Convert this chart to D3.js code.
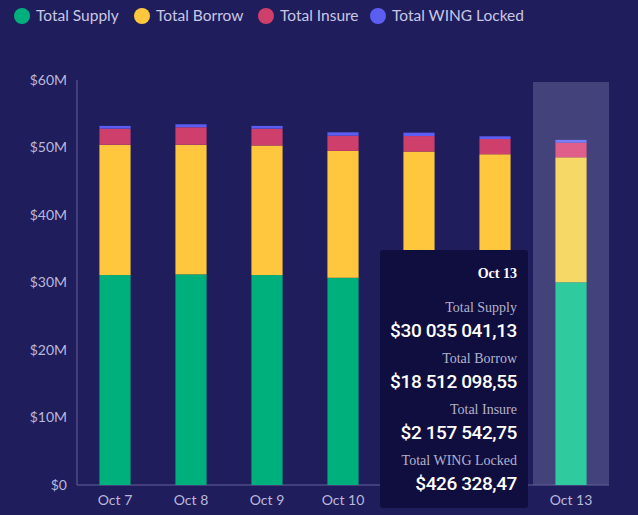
<!DOCTYPE html>
<html>
<head>
<meta charset="utf-8">
<script src="https://cdn.jsdelivr.net/npm/d3@7"></script>
<style>
  html, body { margin: 0; padding: 0; background: #201d5c; }
  #chart { width: 638px; height: 515px; }
</style>
</head>
<body>
<div id="chart"></div>
<script>
// chart data (millions of $)
const days = ['Oct 7', 'Oct 8', 'Oct 9', 'Oct 10', 'Oct 11', 'Oct 12', 'Oct 13'];
const supply = [31.1, 31.2, 31.1, 30.7, 30.6, 30.4, 30.035];
const borrow = [19.3, 19.2, 19.2, 18.8, 18.8, 18.6, 18.512];
const insure = [2.4, 2.6, 2.5, 2.25, 2.3, 2.26, 2.158];
const wing = [0.4, 0.44, 0.4, 0.5, 0.5, 0.4, 0.426];
const seriesNames = ['Total Supply', 'Total Borrow', 'Total Insure', 'Total WING Locked'];
const yTicks = [0, 10, 20, 30, 40, 50, 60];
const tipLines = ['$30 035 041,13', '$18 512 098,55', '$2 157 542,75', '$426 328,47'];

const colors = ['#00b07c', '#ffc73d', '#cf3f6b', '#5c5ef2'];
const hiColors = ['#2fcb9f', '#f6d866', '#df5f8a', '#7c7ef5'];
const active = 6;

const W = 638, H = 515;
const margin = { top: 80, right: 29, bottom: 30, left: 77 };

const svg = d3.select('#chart').append('svg')
  .attr('width', W).attr('height', H);

const rows = days.map((d, i) => ({ day: d, vals: [supply[i], borrow[i], insure[i], wing[i]] }));
const keys = [0, 1, 2, 3];
const stacked = d3.stack().keys(keys).value((d, k) => d.vals[k])(rows);

const x = d3.scaleBand().domain(days).range([margin.left, W - margin.right]).paddingInner(0.59).paddingOuter(0.295);
const y = d3.scaleLinear().domain([0, 60]).range([H - margin.bottom, margin.top]);

// highlight band behind the hovered day
const step = x.step();
svg.append('rect')
  .attr('x', x(days[active]) - x.paddingInner() * step / 2)
  .attr('y', y(60) + 2)
  .attr('width', step)
  .attr('height', y(0) - y(60) - 2)
  .attr('fill', '#44427a');

// y axis labels
svg.append('g').selectAll('text')
  .data(yTicks).join('text')
  .attr('x', margin.left - 10)
  .attr('y', d => y(d))
  .attr('dy', '0.35em')
  .attr('text-anchor', 'end')
  .attr('fill', '#b9b8da')
  .style('font', '14px Lato, sans-serif')
  .text(d => '$' + (d === 0 ? '0' : d + 'M'));

// axis lines
svg.append('line')
  .attr('x1', margin.left).attr('x2', margin.left)
  .attr('y1', y(60)).attr('y2', y(0))
  .attr('stroke', '#64639a').attr('stroke-width', 1);
svg.append('line')
  .attr('x1', margin.left).attr('x2', W - margin.right)
  .attr('y1', y(0)).attr('y2', y(0))
  .attr('stroke', '#64639a').attr('stroke-width', 1);

// bars
svg.append('g').selectAll('g')
  .data(stacked).join('g')
  .selectAll('rect')
  .data(s => s.map((d, i) => ({ d, i, k: s.key })))
  .join('rect')
  .attr('x', o => x(days[o.i]))
  .attr('y', o => y(o.d[1]))
  .attr('width', x.bandwidth())
  .attr('height', o => y(o.d[0]) - y(o.d[1]))
  .attr('fill', o => o.i === active ? hiColors[o.k] : colors[o.k]);

// x labels
svg.append('g').selectAll('text')
  .data(days).join('text')
  .attr('x', d => x(d) + x.bandwidth() / 2)
  .attr('y', y(0) + 20)
  .attr('text-anchor', 'middle')
  .attr('fill', '#b9b8da')
  .style('font', '14px Lato, sans-serif')
  .text(d => d);

// legend
const legX = [22, 142, 266, 378];
const leg = svg.append('g').selectAll('g')
  .data(seriesNames).join('g')
  .attr('transform', (d, i) => `translate(${legX[i]},16)`);
leg.append('circle').attr('r', 8).attr('fill', (d, i) => colors[i]);
leg.append('text')
  .attr('x', 14).attr('dy', '0.35em')
  .attr('fill', '#c9c8e4')
  .style('font', '15.5px Lato, sans-serif')
  .text(d => d);

// tooltip
const tip = svg.append('g');
tip.append('rect')
  .attr('x', 380).attr('y', 250)
  .attr('width', 148).attr('height', 258)
  .attr('rx', 3)
  .attr('fill', '#100e3e');
const tipRight = 517;
tip.append('text')
  .attr('x', tipRight).attr('y', 278)
  .attr('text-anchor', 'end')
  .attr('fill', '#ffffff')
  .style('font', 'bold 14px "Liberation Serif", serif')
  .text(days[active]);
seriesNames.forEach((n, i) => {
  tip.append('text')
    .attr('x', tipRight).attr('y', 312 + i * 51)
    .attr('text-anchor', 'end')
    .attr('fill', '#b3b2cc')
    .style('font', '14px "Liberation Serif", serif')
    .text(n);
  tip.append('text')
    .attr('x', tipRight).attr('y', 337 + i * 51)
    .attr('text-anchor', 'end')
    .attr('fill', '#ffffff')
    .style('font', '500 19px Roboto, sans-serif')
    .style('letter-spacing', '-0.4px')
    .text(tipLines[i]);
});
</script>
</body>
</html>
